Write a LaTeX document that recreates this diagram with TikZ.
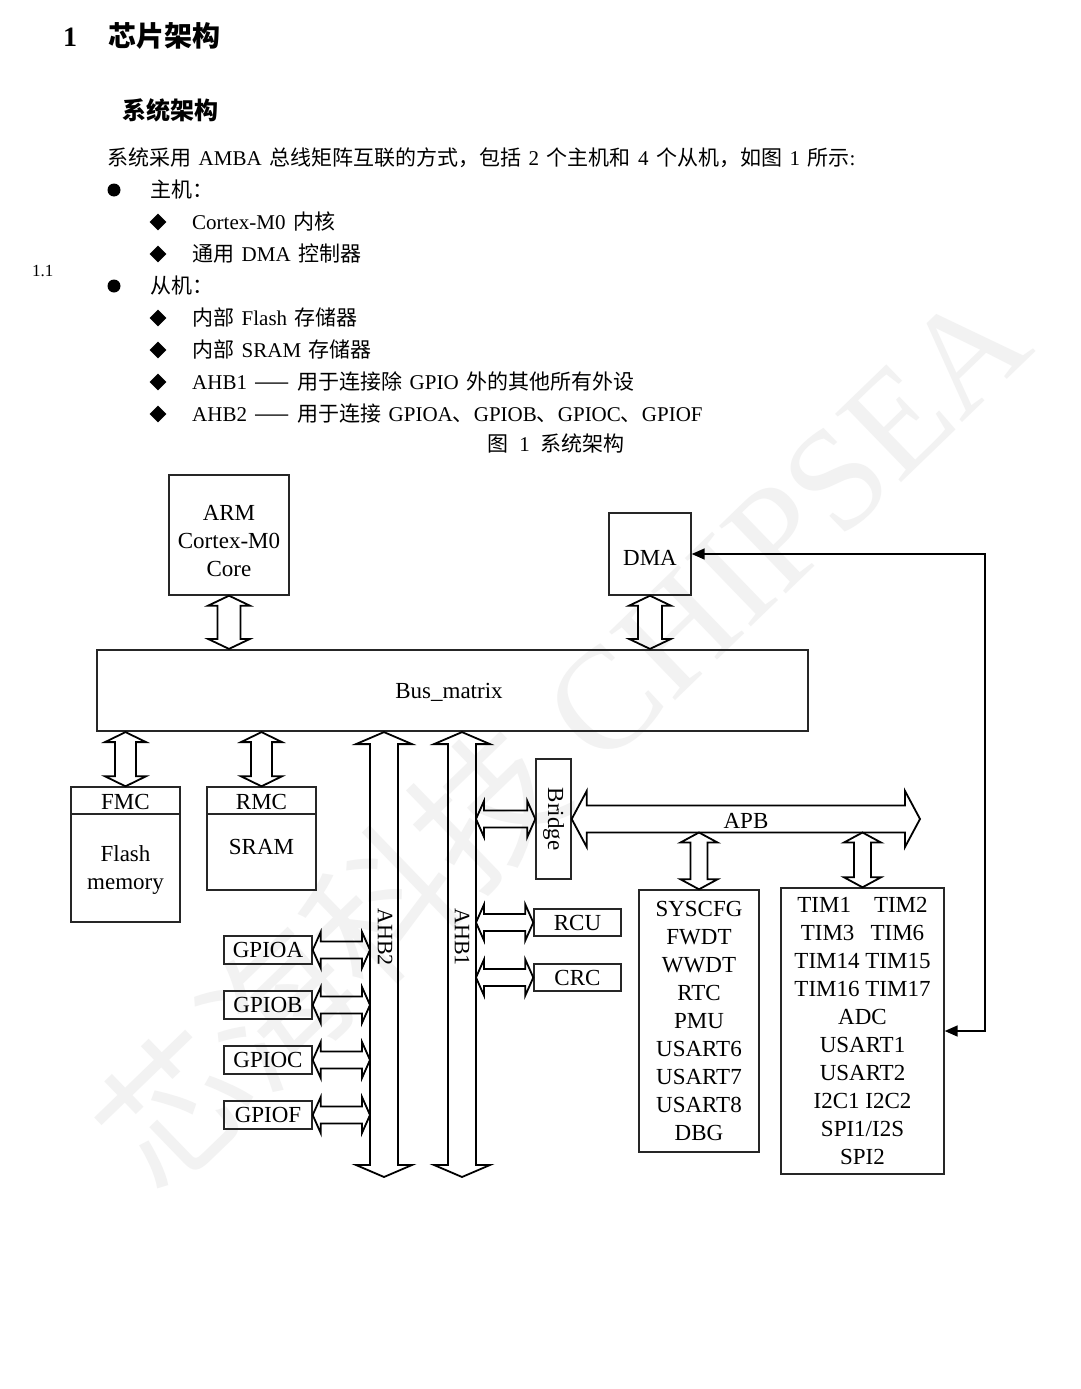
\documentclass[tikz,border=0pt]{standalone}
\usepackage{fontspec}
\setmainfont{Liberation Serif}
\newfontfamily\cjk{Noto Sans CJK SC}
\usetikzlibrary{calc,arrows.meta,shapes.geometric}

\newcommand{\dfont}{\fontsize{23}{28}\selectfont}
\newcommand{\tfont}{\fontsize{21}{32}\selectfont}

% hollow double arrow, vertical: top, bottom, half head, half shaft, head length
\newcommand{\vdbl}[5]{%
  \draw[busline] let \p1=#1, \p2=#2 in
    (\x1,\y1) -- (\x1+#3pt,\y1-#5pt) -- (\x1+#4pt,\y1-#5pt)
    -- (\x1+#4pt,\y2+#5pt) -- (\x1+#3pt,\y2+#5pt) -- (\x1,\y2)
    -- (\x1-#3pt,\y2+#5pt) -- (\x1-#4pt,\y2+#5pt)
    -- (\x1-#4pt,\y1-#5pt) -- (\x1-#3pt,\y1-#5pt) -- cycle;}
% same, horizontal: left, right, half head, half shaft, head length
\newcommand{\hdbl}[5]{%
  \draw[busline] let \p1=#1, \p2=#2 in
    (\x1,\y1) -- (\x1+#5pt,\y1+#3pt) -- (\x1+#5pt,\y1+#4pt)
    -- (\x2-#5pt,\y1+#4pt) -- (\x2-#5pt,\y1+#3pt) -- (\x2,\y1)
    -- (\x2-#5pt,\y1-#3pt) -- (\x2-#5pt,\y1-#4pt)
    -- (\x1+#5pt,\y1-#4pt) -- (\x1+#5pt,\y1-#3pt) -- cycle;}

\tikzset{
  box/.style={draw=black!85, line width=1.4pt, inner sep=0pt, align=center, font=\dfont},
  lbl/.style={inner sep=0pt, align=center, font=\dfont},
  txt/.style={anchor=base west, inner sep=0pt, font=\tfont,
    execute at begin node={\spaceskip=7.5pt plus 1pt\relax}},
  busline/.style={draw=black, line width=1.8pt, line join=miter},
  dot/.style={circle, fill, inner sep=0pt, minimum size=13pt},
  dia/.style={diamond, fill, inner sep=0pt, minimum size=17pt},
  fb/.style={line width=1.6pt, arrows={Triangle[length=13pt,width=11pt]-Triangle[length=13pt,width=11pt]}},
}

\begin{document}
\begin{tikzpicture}[x=1pt,y=-1pt]
\path[fill=white, use as bounding box] (0,0) rectangle (1080,1389);

% watermark
\node (wm) [rotate=44, text=black!5, font=\fontsize{145}{145}\selectfont] at (560,735) {{\cjk 芯海科技} CHIPSEA};

% heading and list
\node (h1) [txt, font=\fontsize{28}{30}\selectfont\bfseries] at (63,47) {1\hspace{31pt}{\cjk 芯片架构}};
\node (h2) [txt, font=\fontsize{24}{26}\selectfont\bfseries\cjk] at (122,119) {系统架构};
\node (p1) [txt] at (107,165) {{\cjk 系统采用} AMBA {\cjk 总线矩阵互联的方式，包括} 2 {\cjk 个主机和} 4 {\cjk 个从机，如图} 1 {\cjk 所示}:};
\node (sec) [txt, font=\fontsize{17}{20}\selectfont] at (32,276) {1.1};

\node (b1) [dot] at (114,190) {};
\node (t1) [txt] at (150,197) {\cjk 主机：};
\node (b2) [dot] at (114,286) {};
\node (t2) [txt] at (150,293) {\cjk 从机：};

\node (d1) [dia] at (158,222) {};
\node (i1) [txt] at (192,229) {Cortex-M0 {\cjk 内核}};
\node (d2) [dia] at (158,254) {};
\node (i2) [txt] at (192,261) {{\cjk 通用} DMA {\cjk 控制器}};
\node (d3) [dia] at (158,318) {};
\node (i3) [txt] at (192,325) {{\cjk 内部} Flash {\cjk 存储器}};
\node (d4) [dia] at (158,350) {};
\node (i4) [txt] at (192,357) {{\cjk 内部} SRAM {\cjk 存储器}};
\node (d5) [dia] at (158,382) {};
\node (i5) [txt] at (192,389) {AHB1 {\cjk ——} {\cjk 用于连接除} GPIO {\cjk 外的其他所有外设}};
\node (d6) [dia] at (158,414) {};
\node (i6) [txt] at (192,421) {AHB2 {\cjk ——} {\cjk 用于连接} GPIOA{\cjk 、}GPIOB{\cjk 、}GPIOC{\cjk 、}GPIOF};
\node (cap) [anchor=base, inner sep=0pt, font=\tfont] at (556,451) {{\cjk 图}\hspace{0.5em}1\hspace{0.5em}{\cjk 系统架构}};

% masters and bus matrix
\node (arm) [box, minimum width=120pt, minimum height=120pt] at (229,535) {};
\node (arml) [lbl] at (229,541) {ARM\\Cortex-M0\\Core};
\node (dma) [box, minimum width=82pt, minimum height=82pt] at (650,554) {};
\node (dmal) [lbl] at (650,558) {DMA};
\node (bus) [box, line width=2.2pt, minimum width=711pt, minimum height=81pt] at (452.5,690.5) {};
\node (busl) [lbl] at (449,692) {Bus\_matrix};
\vdbl{(arm.south)}{(arm.south |- bus.north)}{21}{11.5}{10}
\vdbl{(dma.south)}{(dma.south |- bus.north)}{21}{12}{10}

% memories
\node (fmc) [box, minimum width=109pt, minimum height=135pt] at (125.5,854.5) {};
\draw[draw=black!85, line width=1.4pt] (fmc.west |- 0,814) -- (fmc.east |- 0,814);
\node (fmcl) [lbl] at (125.5,802) {FMC};
\node (flash) [lbl] at (125.5,869.5) {Flash\\memory};
\node (rmc) [box, minimum width=109pt, minimum height=103pt] at (261.5,838.5) {};
\draw[draw=black!85, line width=1.4pt] (rmc.west |- 0,814) -- (rmc.east |- 0,814);
\node (rmcl) [lbl] at (261.5,801.5) {RMC};
\node (sram) [lbl] at (261.5,847) {SRAM};
\vdbl{(bus.south -| fmc.north)}{(fmc.north)}{20.5}{10.5}{10}
\vdbl{(bus.south -| rmc.north)}{(rmc.north)}{20.5}{10.5}{10}

% AHB buses
\coordinate (ahb2t) at (bus.south -| 384,0);
\coordinate (ahb2b) at (384,1177);
\coordinate (ahb1t) at (bus.south -| 462,0);
\coordinate (ahb1b) at (462,1177);
\coordinate (ahb2l) at (370,733);
\coordinate (ahb1r) at (476,733);
\vdbl{(ahb2t)}{(ahb2b)}{28}{14}{12}
\vdbl{(ahb1t)}{(ahb1b)}{28}{14}{12}
\node (ahb2) [lbl, font=\fontsize{22}{24}\selectfont, rotate=-90] at (385,937) {AHB2};
\node (ahb1) [lbl, font=\fontsize{22}{24}\selectfont, rotate=-90] at (462,937) {AHB1};

% GPIO ports on AHB2
\foreach \g/\y in {A/950,B/1005,C/1060,F/1115}{
  \node (gpio\g) [box, minimum width=88pt, minimum height=28pt] at (268,\y) {GPIO\g};
  \hdbl{(gpio\g.east)}{(ahb2l |- gpio\g.east)}{18}{8.5}{8}
}

% AHB1 peripherals
\node (bridge) [box, minimum width=35pt, minimum height=120pt] at (553.5,819) {};
\node (bridgel) [lbl, rotate=-90] at (bridge.center) {Bridge};
\node (rcu) [box, minimum width=87pt, minimum height=27pt] at (577.5,922.5) {RCU};
\node (crc) [box, minimum width=87pt, minimum height=27pt] at (577.5,977.5) {CRC};
\hdbl{(ahb1r |- bridge.west)}{([yshift=6pt]bridge.west)}{18}{8.5}{8}
\hdbl{(ahb1r |- rcu.west)}{(rcu.west)}{18}{8.5}{8}
\hdbl{(ahb1r |- crc.west)}{(crc.west)}{18}{8.5}{8}

% APB
\coordinate (apbe) at (920,819);
\coordinate (apbb) at (0,832.5);
\hdbl{(bridge.east)}{(apbe)}{28}{13.5}{15}
\node (apb) [lbl] at (746,821) {APB};

\node (sys) [box, minimum width=120pt, minimum height=262pt] at (699,1021)
  {SYSCFG\\FWDT\\WWDT\\RTC\\PMU\\USART6\\USART7\\USART8\\DBG};
\node (tim) [box, minimum width=163pt, minimum height=286pt] at (862.5,1031)
  {TIM1\quad TIM2\\TIM3\hspace{0.7em}TIM6\\TIM14 TIM15\\TIM16 TIM17\\ADC\\USART1\\USART2\\I2C1 I2C2\\SPI1/I2S\\SPI2};
\vdbl{(sys.north |- apbb)}{(sys.north)}{18.5}{8.5}{10}
\vdbl{(tim.north |- apbb)}{(tim.north)}{18.5}{8.5}{10}

% DMA requests
\draw[fb] (tim.east) -| (dma.east -| 985,0) -- (dma.east);
\end{tikzpicture}
\end{document}
